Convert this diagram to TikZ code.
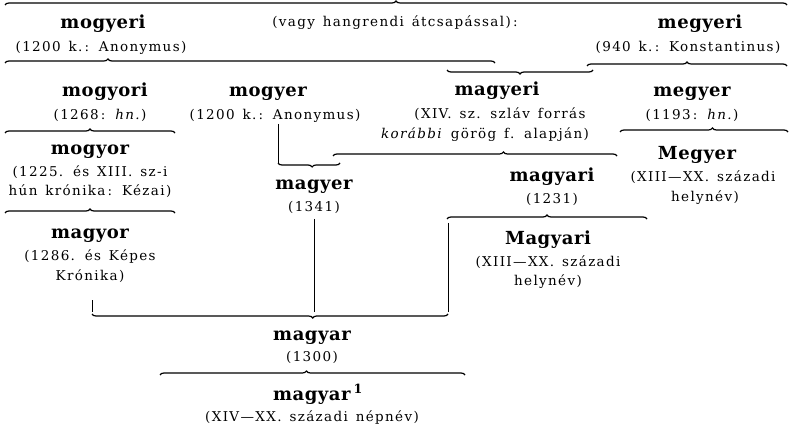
\documentclass[tikz,border=0pt]{standalone}
\usepackage{fontspec}
\setmainfont{DejaVu Serif}[LetterSpace=10, WordSpace=1.4]
\newfontfamily\hwfam{DejaVu Serif}[LetterSpace=3]
\usetikzlibrary{decorations.pathreplacing}
\newcommand\txf{\fontsize{13.5}{15}\selectfont}
\newcommand\hwf{\hwfam\fontsize{18}{20}\selectfont\bfseries}
\tikzset{
  hw/.style={font=\hwf, inner sep=0pt, anchor=base},
  tx/.style={font=\txf, inner sep=0pt, anchor=base},
  ln/.style={line width=1.2pt},
  vl/.style={line width=0.6pt},
  brc/.style={ln, decorate, decoration={brace, amplitude=4pt, aspect=#1}},
  brm/.style={ln, decorate, decoration={brace, amplitude=4pt, mirror, aspect=#1}},
}
\begin{document}
\begin{tikzpicture}[x=1pt, y=-1pt]
\useasboundingbox (0,0) rectangle (792,438);
% row 1
\node[hw] (mogyeri) at (103,29) {mogyeri};
\node[tx] (mogyeriA) at (101,52) {(1200 k.\,: Anonymus)};
\node[tx] (vagy) at (395,27) {(vagy hangrendi átcsapással)\,:};
\node[hw] (megyeri) at (700,29) {megyeri};
\node[tx] (megyeriA) at (688,52) {(940 k.\,: Konstantinus)};
% row 2
\node[hw] (mogyori) at (105,97) {mogyori};
\node[tx] (mogyoriA) at (100,120) {(1268\,: \textit{hn.})};
\node[hw] (mogyer) at (268,97) {mogyer};
\node[tx] (mogyerA) at (275,120) {(1200 k.\,: Anonymus)};
\node[hw] (magyeri) at (497,96) {magyeri};
\node[tx] (magyeriA) at (500,119) {(XIV. sz. szláv forrás};
\node[tx] (magyeriB) at (485,139) {\textit{korábbi} görög f. alapján)};
\node[hw] (megyer) at (692,97) {megyer};
\node[tx] (megyerA) at (692,120) {(1193\,: \textit{hn.})};
% row 3
\node[hw] (mogyor) at (90,155) {mogyor};
\node[tx] (mogyorA) at (90,177) {(1225. és XIII. sz-i};
\node[tx] (mogyorB) at (90,196) {hún krónika\,: Kézai)};
\node[hw] (magyer) at (314,190) {magyer};
\node[tx] (magyerA) at (314,212) {(1341)};
\node[hw] (magyari) at (552,182) {magyari};
\node[tx] (magyariA) at (552,204) {(1231)};
\node[hw] (Megyer) at (697,160) {Megyer};
\node[tx] (MegyerA) at (703,182) {(XIII—XX. századi};
\node[tx] (MegyerB) at (705,202) {helynév)};
% row 4
\node[hw] (magyor) at (90,239) {magyor};
\node[tx] (magyorA) at (90,261) {(1286. és Képes};
\node[tx] (magyorB) at (90,280) {Krónika)};
\node[hw] (Magyari) at (548,245) {Magyari};
\node[tx] (MagyariA) at (548,266) {(XIII—XX. századi};
\node[tx] (MagyariB) at (548,285) {helynév)};
% row 5
\node[hw] (magyar) at (312,340) {magyar};
\node[tx] (magyarA) at (312,361) {(1300)};
\node[hw] (magyarI) at (318,400) {magyar\,$^{\mathbf{1}}$};
\node[tx] (magyarIA) at (312,421) {(XIV—XX. századi népnév)};
% coordinates
\coordinate (t1) at (5,5);   \coordinate (t2) at (787,5);
\coordinate (a1) at (5,63);  \coordinate (a2) at (495,63);
\coordinate (b1) at (447,70); \coordinate (b2) at (593,70);
\coordinate (c1) at (587,66); \coordinate (c2) at (787,66);
\coordinate (d1) at (5,133); \coordinate (d2) at (175,133);
\coordinate (e0) at (278,124); \coordinate (e1) at (278,163); \coordinate (e2) at (340,163);
\coordinate (f1) at (333,156); \coordinate (f2) at (617,156);
\coordinate (g1) at (620,132); \coordinate (g2) at (788,132);
\coordinate (h1) at (5,213); \coordinate (h2) at (175,213);
\coordinate (i1) at (447,219); \coordinate (i2) at (647,219);
\coordinate (j0) at (448,223); \coordinate (j1) at (448,312);
\coordinate (k1) at (92,314); \coordinate (k2) at (448,314);
\coordinate (l0) at (92,300); \coordinate (l1) at (92,312);
\coordinate (m0) at (314,219); \coordinate (m1) at (314,312);
\coordinate (n1) at (160,375); \coordinate (n2) at (465,375);
% braces and lines
\draw[brc=0.5] (t1) -- (t2);
\draw[brc=0.21] (a1) -- (a2);
\draw[brm=0.5] (b1) -- (b2);
\draw[brc=0.5] (c1) -- (c2);
\draw[brc=0.5] (d1) -- (d2);
\draw[vl] (e0) -- (e1);
\draw[brm=0.55] (e1) -- (e2);
\draw[brc=0.6] (f1) -- (f2);
\draw[brc=0.55] (g1) -- (g2);
\draw[brc=0.5] (h1) -- (h2);
\draw[brc=0.5] (i1) -- (i2);
\draw[vl] (j0) -- (j1);
\draw[brm=0.62] (k1) -- (k2);
\draw[vl] (l0) -- (l1);
\draw[vl] (m0) -- (m1);
\draw[brc=0.48] (n1) -- (n2);
\end{tikzpicture}
\end{document}
